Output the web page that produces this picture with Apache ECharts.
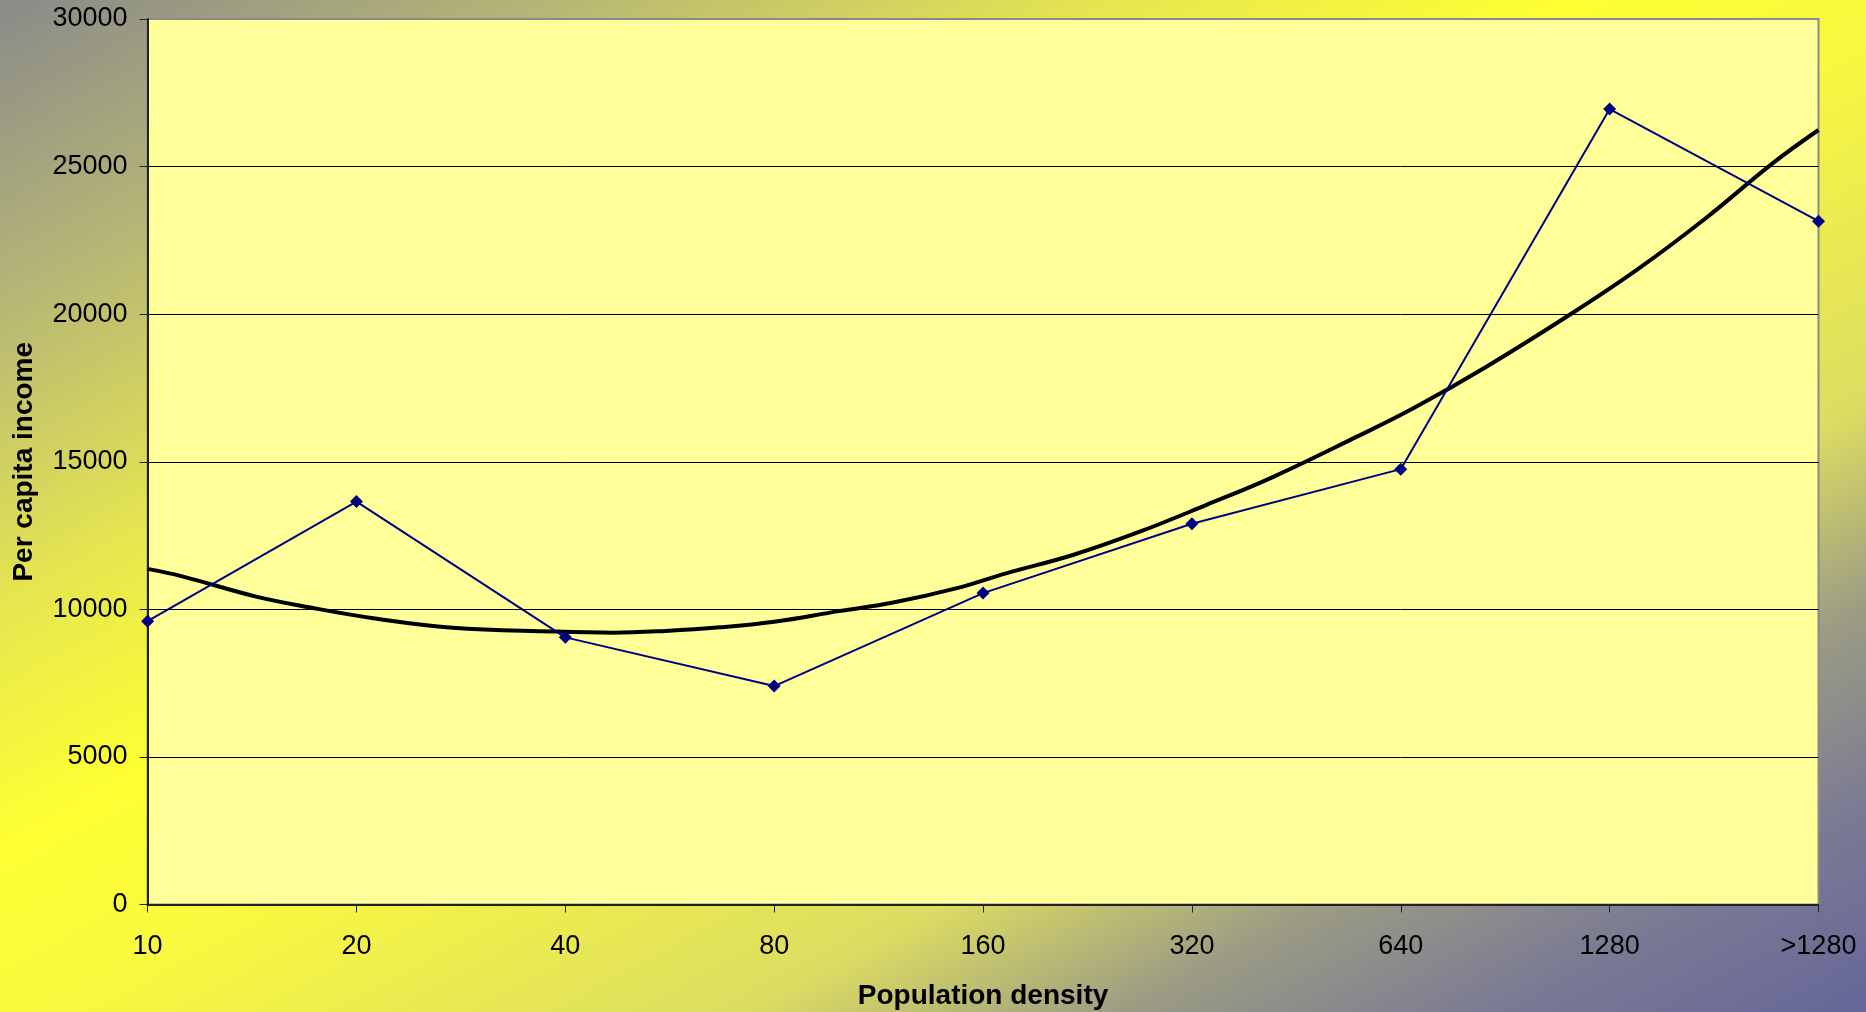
<!DOCTYPE html>
<html>
<head>
<meta charset="utf-8">
<script src="https://cdn.jsdelivr.net/npm/echarts@6/dist/echarts.min.js"></script>
<style>
html,body{margin:0;padding:0;}
#chart{width:1866px;height:1012px;}
</style>
</head>
<body>
<div id="chart"></div>
<script>
// ---- data ----
var categories = ['10', '20', '40', '80', '160', '320', '640', '1280', '>1280'];
var income = [9600, 13650, 9050, 7400, 10550, 12900, 14750, 26950, 23150];
// trend line (position along the category axis, value)
var trendPos = [0, 0.17, 0.52, 0.78, 1.08, 1.46, 1.94, 2.23, 2.48, 2.74, 3.0, 3.31, 3.57, 3.87, 4.11, 4.43, 4.75, 5.07, 5.39, 5.79, 6.06, 6.41, 6.82, 7.14, 7.46, 7.78, 8.0];
var trendVal = [11370, 11110, 10430, 10060, 9700, 9380, 9250, 9210, 9270, 9390, 9580, 9940, 10230, 10710, 11220, 11840, 12630, 13540, 14490, 15850, 16810, 18220, 20030, 21550, 23250, 25110, 26240];
var yTicks = [0, 5000, 10000, 15000, 20000, 25000, 30000];

var font = 'Arial, "Liberation Sans", sans-serif';
var chart = echarts.init(document.getElementById('chart'));

var mainData = income.map(function (v, i) { return [i, v]; });
var trendData = trendPos.map(function (p, i) { return [p, trendVal[i]]; });

chart.setOption({
  animation: false,
  backgroundColor: 'transparent',
  graphic: {
    elements: [{
      type: 'rect',
      z: -100,
      silent: true,
      scaleX: 1866 / 1012,
      shape: { x: 0, y: 0, width: 1012, height: 1012 },
      style: {
        fill: {
          type: 'linear', x: 0, y: 0, x2: 1, y2: 1,
          colorStops: [
            { offset: 0, color: '#8a8a8a' },
            { offset: 0.15, color: '#b6b676' },
            { offset: 0.3, color: '#e6e650' },
            { offset: 0.42, color: '#ffff33' },
            { offset: 0.52, color: '#f8f840' },
            { offset: 0.7, color: '#dcdc62' },
            { offset: 0.8, color: '#9c9c84' },
            { offset: 0.9, color: '#7a7a94' },
            { offset: 1, color: '#666699' }
          ]
        }
      }
    }]
  },
  grid: {
    left: 147.6, right: 47.5, top: 19, bottom: 107.5,
    outerBoundsMode: 'none',
    containLabel: false,
    show: true,
    backgroundColor: '#ffff99',
    borderColor: '#8a8a8a',
    borderWidth: 2
  },
  xAxis: {
    type: 'value',
    min: 0, max: 8, interval: 1,
    name: 'Population density',
    nameLocation: 'middle',
    nameGap: 78,
    nameTextStyle: { fontFamily: font, fontSize: 28, fontWeight: 'bold', color: '#000' },
    axisLine: { show: true, lineStyle: { color: '#222', width: 2 } },
    axisTick: { show: true, inside: false, length: 8, lineStyle: { color: '#222', width: 1 } },
    axisLabel: {
      fontFamily: font, fontSize: 27, color: '#000', margin: 29,
      formatter: function (v) { return categories[Math.round(v)] || ''; }
    },
    splitLine: { show: false }
  },
  yAxis: {
    type: 'value',
    min: yTicks[0], max: yTicks[yTicks.length - 1], interval: 5000,
    name: 'Per capita income',
    nameLocation: 'middle',
    nameGap: 109,
    nameRotate: 90,
    nameTextStyle: { fontFamily: font, fontSize: 28, fontWeight: 'bold', color: '#000' },
    axisLine: { show: true, lineStyle: { color: '#222', width: 2 } },
    axisTick: { show: true, inside: false, length: 8, lineStyle: { color: '#222', width: 1 } },
    axisLabel: {
      fontFamily: font, fontSize: 27, color: '#000', margin: 20,
      formatter: function (v) { return String(v); }
    },
    splitLine: { show: true, showMaxLine: false, showMinLine: false, lineStyle: { color: '#000', width: 1 } }
  },
  series: [
    {
      type: 'line',
      data: trendData,
      smooth: 0.4,
      symbol: 'none',
      lineStyle: { color: '#000', width: 4 },
      z: 3
    },
    {
      type: 'line',
      data: mainData,
      symbol: 'diamond',
      symbolSize: 13,
      itemStyle: { color: '#000080' },
      lineStyle: { color: '#000080', width: 2 },
      z: 4
    }
  ]
});
</script>
</body>
</html>
